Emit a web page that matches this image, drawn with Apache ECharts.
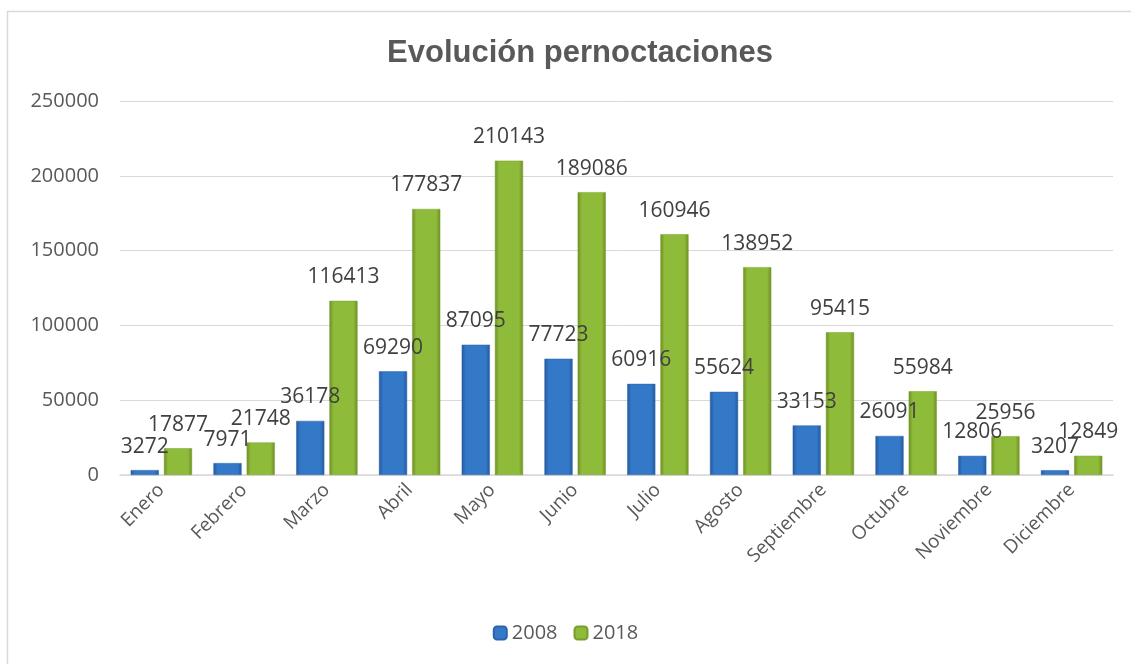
<!DOCTYPE html>
<html>
<head>
<meta charset="utf-8">
<script src="https://cdn.jsdelivr.net/npm/echarts@6/dist/echarts.min.js"></script>
<style>
  html, body { margin: 0; padding: 0; background: #fff; }
  #chart { width: 1131px; height: 664px; }
</style>
</head>
<body>
<div id="chart"></div>
<script>
// datos
const meses = ['Enero', 'Febrero', 'Marzo', 'Abril', 'Mayo', 'Junio', 'Julio', 'Agosto', 'Septiembre', 'Octubre', 'Noviembre', 'Diciembre']
const valores2008 = [3272, 7971, 36178, 69290, 87095, 77723, 60916, 55624, 33153, 26091, 12806, 3207]
const valores2018 = [17877, 21748, 116413, 177837, 210143, 189086, 160946, 138952, 95415, 55984, 25956, 12849]

const chart = echarts.init(document.getElementById('chart'))

// relleno tipo bisel (bordes oscuros, centro claro)
const bevel = (edge, mid) => new echarts.graphic.LinearGradient(0, 0, 1, 0, [
  { offset: 0, color: edge },
  { offset: 0.15, color: mid },
  { offset: 0.85, color: mid },
  { offset: 1, color: edge }
])

const labelStyle = {
  show: true,
  position: 'top',
  distance: 13,
  fontFamily: 'Open Sans',
  fontSize: 21,
  color: '#404040'
}

const option = {
  animation: false,
  graphic: [{
    type: 'rect',
    shape: { x: 7.5, y: 11.5, width: 1300, height: 800 },
    style: { fill: 'none', stroke: '#d9d9d9', lineWidth: 1.5 },
    silent: true
  }],
  title: {
    text: 'Evolución pernoctaciones',
    left: 575,
    textAlign: 'center',
    top: 33,
    textStyle: {
      fontFamily: 'Liberation Sans',
      fontSize: 31,
      fontWeight: 'bold',
      color: '#595959'
    }
  },
  legend: {
    bottom: 16,
    left: 'center',
    itemWidth: 13,
    itemHeight: 13,
    itemGap: 16,
    textStyle: { fontFamily: 'Open Sans', fontSize: 20, color: '#595959' },
    data: ['2008', '2018']
  },
  grid: {
    left: 120,
    right: 18,
    top: 101,
    bottom: 189,
    containLabel: false
  },
  xAxis: {
    type: 'category',
    data: meses,
    axisLine: { lineStyle: { color: '#d9d9d9', width: 1.5 } },
    axisTick: { show: false },
    axisLabel: {
      rotate: 45,
      interval: 0,
      margin: 12,
      fontFamily: 'Open Sans',
      fontSize: 19,
      color: '#595959'
    }
  },
  yAxis: {
    type: 'value',
    min: 0,
    max: 250000,
    interval: 50000,
    axisLine: { show: false },
    axisTick: { show: false },
    axisLabel: {
      margin: 21,
      fontFamily: 'Open Sans',
      fontSize: 20,
      color: '#595959',
      formatter: (v) => String(v)
    },
    splitLine: { lineStyle: { color: '#d9d9d9', width: 1 } }
  },
  series: [{
    name: '2008',
    type: 'bar',
    data: valores2008,
    barWidth: '34%',
    barGap: '18%',
    itemStyle: {
      color: bevel('#24599c', '#3478c8'),
      borderColor: '#2a64ab',
      borderWidth: 0.5
    },
    label: labelStyle
  }, {
    name: '2018',
    type: 'bar',
    data: valores2018,
    barWidth: '34%',
    itemStyle: {
      color: bevel('#6d8f25', '#8fbb3a'),
      borderColor: '#7a9e2c',
      borderWidth: 0.5
    },
    label: labelStyle
  }]
}

chart.setOption(option)
</script>
</body>
</html>
